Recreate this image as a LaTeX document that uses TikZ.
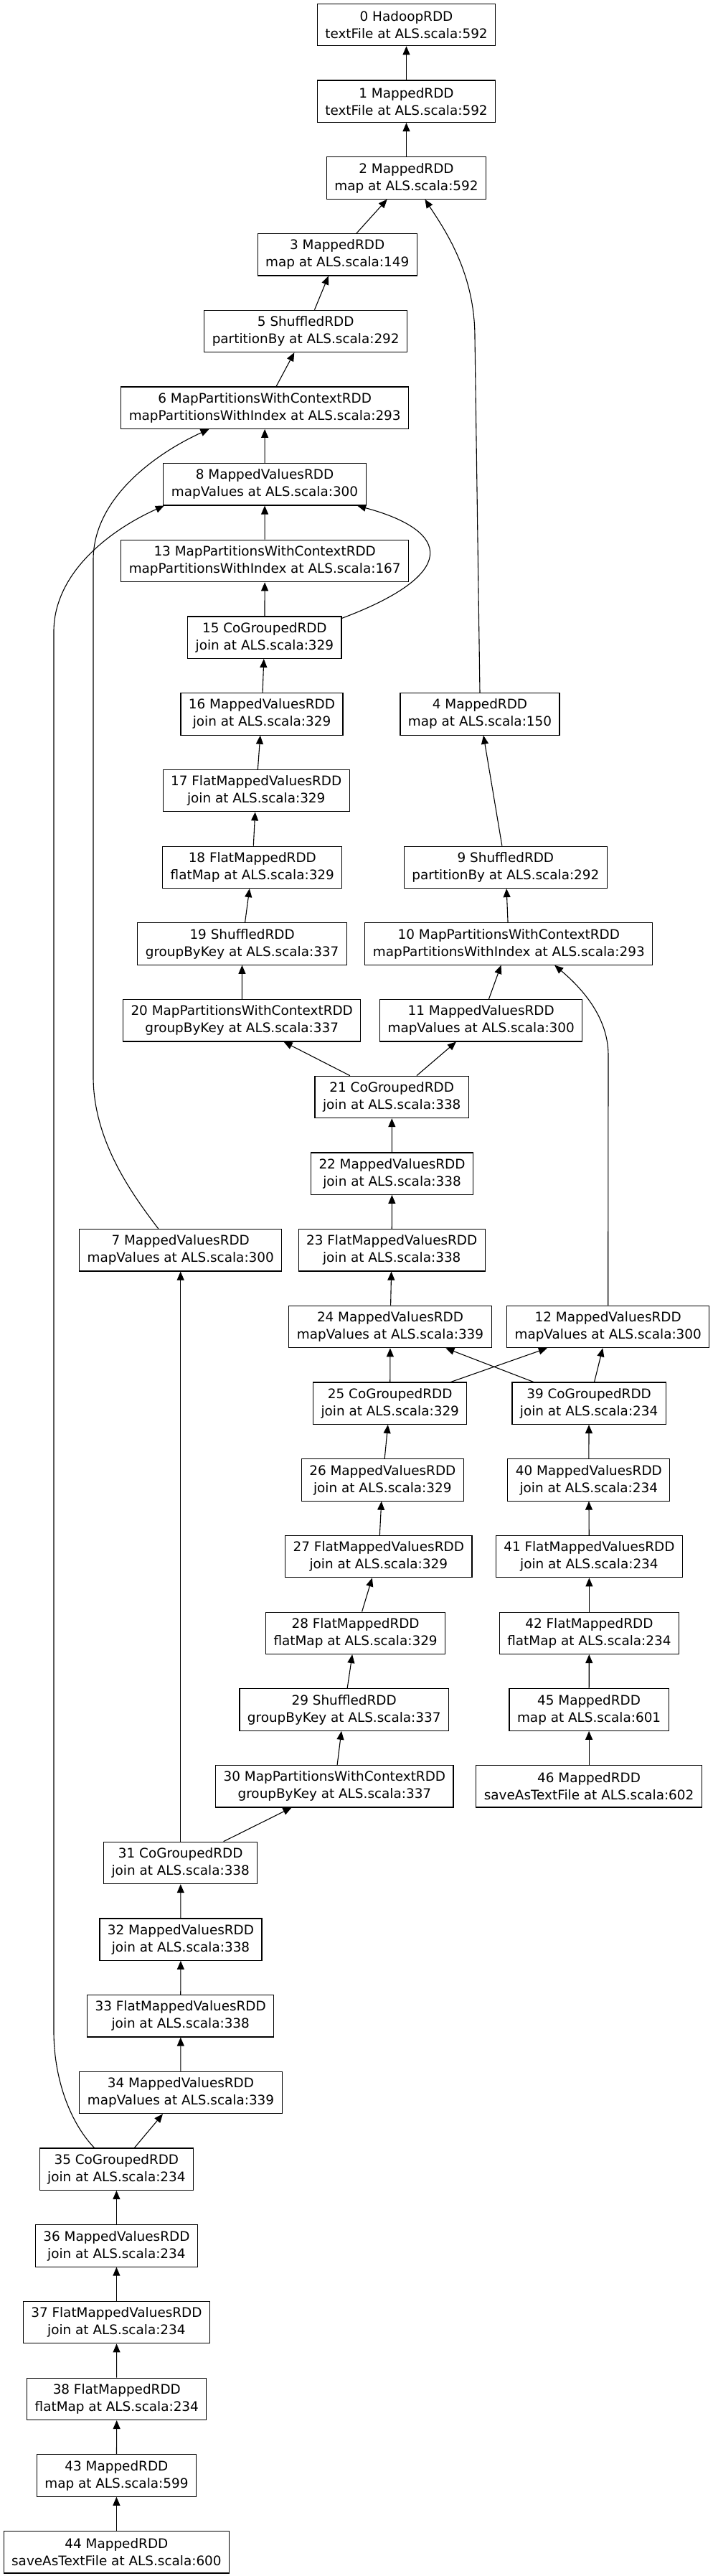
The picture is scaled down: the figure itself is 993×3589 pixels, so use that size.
\documentclass[tikz,border=0pt]{standalone}
\usepackage{fontspec}
\setmainfont{DejaVu Sans}
\usetikzlibrary{arrows.meta}
\begin{document}
\begin{tikzpicture}[x=1pt, y=-1pt,
	rdd/.style={draw, line width=1.2pt, align=center, inner xsep=11pt, inner ysep=0pt, minimum height=58.4pt, font=\fontsize{18.4}{24}\selectfont},
	dep/.style={line width=1.1pt, -{Triangle[length=12pt,width=10pt]}}]
	\useasboundingbox (0,0) rectangle (993,3589);

	\node[rdd] (R0) at (566.5,34.6) {0 HadoopRDD\\textFile at ALS.scala:592};
	\node[rdd] (R1) at (566.5,141.3) {1 MappedRDD\\textFile at ALS.scala:592};
	\node[rdd] (R2) at (566.5,248.0) {2 MappedRDD\\map at ALS.scala:592};
	\node[rdd] (R3) at (470.2,354.7) {3 MappedRDD\\map at ALS.scala:149};
	\node[rdd] (R5) at (426.2,461.4) {5 ShuffledRDD\\partitionBy at ALS.scala:292};
	\node[rdd] (R6) at (369.2,568.1) {6 MapPartitionsWithContextRDD\\mapPartitionsWithIndex at ALS.scala:293};
	\node[rdd] (R8) at (369.0,674.8) {8 MappedValuesRDD\\mapValues at ALS.scala:300};
	\node[rdd] (R13) at (369.2,781.5) {13 MapPartitionsWithContextRDD\\mapPartitionsWithIndex at ALS.scala:167};
	\node[rdd] (R15) at (368.9,888.2) {15 CoGroupedRDD\\join at ALS.scala:329};
	\node[rdd] (R16) at (365.0,994.9) {16 MappedValuesRDD\\join at ALS.scala:329};
	\node[rdd] (R4) at (669.0,994.9) {4 MappedRDD\\map at ALS.scala:150};
	\node[rdd] (R17) at (357.2,1101.6) {17 FlatMappedValuesRDD\\join at ALS.scala:329};
	\node[rdd] (R18) at (351.8,1208.3) {18 FlatMappedRDD\\flatMap at ALS.scala:329};
	\node[rdd] (R9) at (704.9,1208.3) {9 ShuffledRDD\\partitionBy at ALS.scala:292};
	\node[rdd] (R19) at (337.6,1315.0) {19 ShuffledRDD\\groupByKey at ALS.scala:337};
	\node[rdd] (R10) at (709.3,1315.0) {10 MapPartitionsWithContextRDD\\mapPartitionsWithIndex at ALS.scala:293};
	\node[rdd] (R20) at (337.2,1421.7) {20 MapPartitionsWithContextRDD\\groupByKey at ALS.scala:337};
	\node[rdd] (R11) at (670.7,1421.7) {11 MappedValuesRDD\\mapValues at ALS.scala:300};
	\node[rdd] (R21) at (546.2,1528.4) {21 CoGroupedRDD\\join at ALS.scala:338};
	\node[rdd] (R22) at (546.5,1635.1) {22 MappedValuesRDD\\join at ALS.scala:338};
	\node[rdd] (R7) at (251.7,1741.8) {7 MappedValuesRDD\\mapValues at ALS.scala:300};
	\node[rdd] (R23) at (546.2,1741.8) {23 FlatMappedValuesRDD\\join at ALS.scala:338};
	\node[rdd] (R24) at (544.0,1848.5) {24 MappedValuesRDD\\mapValues at ALS.scala:339};
	\node[rdd] (R12) at (847.7,1848.5) {12 MappedValuesRDD\\mapValues at ALS.scala:300};
	\node[rdd] (R25) at (543.7,1955.2) {25 CoGroupedRDD\\join at ALS.scala:329};
	\node[rdd] (R39) at (821.1,1955.2) {39 CoGroupedRDD\\join at ALS.scala:234};
	\node[rdd] (R26) at (533.3,2061.9) {26 MappedValuesRDD\\join at ALS.scala:329};
	\node[rdd] (R40) at (820.8,2061.9) {40 MappedValuesRDD\\join at ALS.scala:234};
	\node[rdd] (R27) at (527.8,2168.6) {27 FlatMappedValuesRDD\\join at ALS.scala:329};
	\node[rdd] (R41) at (821.4,2168.6) {41 FlatMappedValuesRDD\\join at ALS.scala:234};
	\node[rdd] (R28) at (495.6,2275.3) {28 FlatMappedRDD\\flatMap at ALS.scala:329};
	\node[rdd] (R42) at (821.4,2275.3) {42 FlatMappedRDD\\flatMap at ALS.scala:234};
	\node[rdd] (R29) at (479.7,2382.0) {29 ShuffledRDD\\groupByKey at ALS.scala:337};
	\node[rdd] (R45) at (821.1,2382.0) {45 MappedRDD\\map at ALS.scala:601};
	\node[rdd] (R30) at (466.4,2488.7) {30 MapPartitionsWithContextRDD\\groupByKey at ALS.scala:337};
	\node[rdd] (R46) at (821.1,2488.7) {46 MappedRDD\\saveAsTextFile at ALS.scala:602};
	\node[rdd] (R31) at (251.7,2595.4) {31 CoGroupedRDD\\join at ALS.scala:338};
	\node[rdd] (R32) at (252.0,2702.1) {32 MappedValuesRDD\\join at ALS.scala:338};
	\node[rdd] (R33) at (251.7,2808.8) {33 FlatMappedValuesRDD\\join at ALS.scala:338};
	\node[rdd] (R34) at (252.0,2915.5) {34 MappedValuesRDD\\mapValues at ALS.scala:339};
	\node[rdd] (R35) at (162.4,3022.2) {35 CoGroupedRDD\\join at ALS.scala:234};
	\node[rdd] (R36) at (162.4,3128.9) {36 MappedValuesRDD\\join at ALS.scala:234};
	\node[rdd] (R37) at (162.4,3235.6) {37 FlatMappedValuesRDD\\join at ALS.scala:234};
	\node[rdd] (R38) at (162.8,3342.3) {38 FlatMappedRDD\\flatMap at ALS.scala:234};
	\node[rdd] (R43) at (162.4,3449.0) {43 MappedRDD\\map at ALS.scala:599};
	\node[rdd] (R44) at (162.4,3555.7) {44 MappedRDD\\saveAsTextFile at ALS.scala:600};

	\draw[dep] (R1) -- (R0);
	\draw[dep] (R2) -- (R1);
	\draw[dep] (R3) -- (R2);
	\draw[dep] (R4.north) -- (662,470) .. controls (662,380) and (620,320) .. (R2.-49);
	\draw[dep] (R5) -- (R3);
	\draw[dep] (R6) -- (R5);
	\draw[dep] (R7.136) .. controls (185,1665) and (130,1590) .. (130,1500) -- (130,780) .. controls (130,690) and (225,628) .. (R6.-159);
	\draw[dep] (R8) -- (R6);
	\draw[dep] (R13) -- (R8);
	\draw[dep] (R15) -- (R13);
	\draw[dep] (R15.14) .. controls (640,800) and (630,740) .. (R8.-13.5);
	\draw[dep] (R35.136) .. controls (100,2960) and (75,2900) .. (75,2830) -- (75,880) .. controls (75,800) and (150,740) .. (R8.-168);
	\draw[dep] (R16) -- (R15);
	\draw[dep] (R17) -- (R16);
	\draw[dep] (R18) -- (R17);
	\draw[dep] (R19) -- (R18);
	\draw[dep] (R9) -- (R4);
	\draw[dep] (R10) -- (R9);
	\draw[dep] (R20) -- (R19);
	\draw[dep] (R21) -- (R20);
	\draw[dep] (R21) -- (R11);
	\draw[dep] (R11) -- (R10);
	\draw[dep] (R12.north) -- (848,1470) .. controls (848,1420) and (815,1380) .. (R10.-25);
	\draw[dep] (R22) -- (R21);
	\draw[dep] (R23) -- (R22);
	\draw[dep] (R24) -- (R23);
	\draw[dep] (R25) -- (R24);
	\draw[dep] (R25) -- (R12);
	\draw[dep] (R39) -- (R24);
	\draw[dep] (R39) -- (R12);
	\draw[dep] (R26) -- (R25);
	\draw[dep] (R40) -- (R39);
	\draw[dep] (R27) -- (R26);
	\draw[dep] (R41) -- (R40);
	\draw[dep] (R28) -- (R27);
	\draw[dep] (R42) -- (R41);
	\draw[dep] (R29) -- (R28);
	\draw[dep] (R45) -- (R42);
	\draw[dep] (R30) -- (R29);
	\draw[dep] (R46) -- (R45);
	\draw[dep] (R31) -- (R30);
	\draw[dep] (R31) -- (R7);
	\draw[dep] (R32) -- (R31);
	\draw[dep] (R33) -- (R32);
	\draw[dep] (R34) -- (R33);
	\draw[dep] (R35) -- (R34);
	\draw[dep] (R36) -- (R35);
	\draw[dep] (R37) -- (R36);
	\draw[dep] (R38) -- (R37);
	\draw[dep] (R43) -- (R38);
	\draw[dep] (R44) -- (R43);
\end{tikzpicture}
\end{document}
